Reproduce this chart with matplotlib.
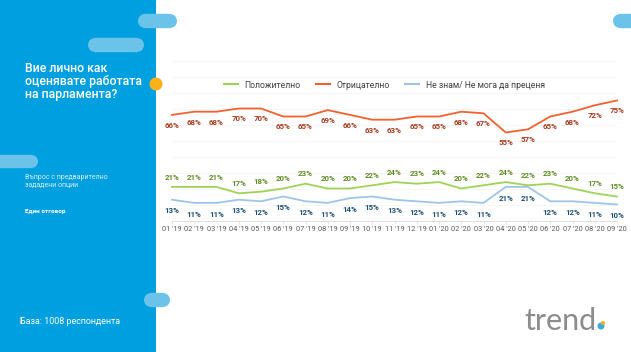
import matplotlib.pyplot as plt
from matplotlib.patches import Circle, Rectangle
from matplotlib.lines import Line2D

plt.rcParams['font.family'] = ['Roboto', 'DejaVu Sans']

months = ["01 '19", "02 '19", "03 '19", "04 '19", "05 '19", "06 '19", "07 '19",
          "08 '19", "09 '19", "10 '19", "11 '19", "12 '19", "01 '20", "02 '20",
          "03 '20", "04 '20", "05 '20", "06 '20", "07 '20", "08 '20", "09 '20"]
negative = [66, 68, 68, 70, 70, 65, 65, 69, 66, 63, 63, 65, 65, 68, 67, 55, 57, 65, 68, 72, 75]
positive = [21, 21, 21, 17, 18, 20, 23, 20, 20, 22, 24, 23, 24, 20, 22, 24, 22, 23, 20, 17, 15]
dont_know = [13, 11, 11, 13, 12, 15, 12, 11, 14, 15, 13, 12, 11, 12, 11, 21, 21, 12, 12, 11, 10]

W, H = 631, 352
fig = plt.figure(figsize=(W / 100, H / 100), dpi=100)
fig.patch.set_facecolor('white')

# background layer in pixel units
bg = fig.add_axes([0, 0, 1, 1])
bg.set_xlim(0, W)
bg.set_ylim(H, 0)
bg.axis('off')
bg.add_patch(Rectangle((0, 0), 156, H, facecolor='#009fe0', edgecolor='none'))


def pill(x0, y0, x1, y1, color='#6cc3ea'):
    h = y1 - y0
    r = h / 2
    bg.add_patch(Rectangle((x0 + r, y0), (x1 - x0) - h, h, facecolor=color,
                           edgecolor=color, lw=0.3))
    bg.add_patch(Circle((x0 + r, y0 + r), r, facecolor=color, edgecolor='none'))
    bg.add_patch(Circle((x1 - r, y0 + r), r, facecolor=color, edgecolor='none'))


pill(138, 14, 177, 28)
pill(88, 38, 144, 52)
pill(-20, 155, 38, 168)
pill(144, 293, 170, 307)
pill(613, 14, 660, 28)
bg.add_patch(Circle((156, 84), 6.5, facecolor='#fbb117', edgecolor='none'))

bg.text(25, 62, "Вие лично как\nоценявате работата\nна парламента?",
        color='white', fontsize=8.8, fontweight='medium', va='top', ha='left',
        linespacing=1.0)
bg.text(25, 174, "Въпрос с предварително\nзададени опции",
        color='#d8effa', fontsize=5.0, va='top', ha='left', linespacing=1.25)
bg.text(25, 209, "Един отговор", color='white', fontsize=4.6,
        fontweight='bold', va='top', ha='left')
bg.text(20, 322, "База: 1008 респондента", color='white',
        fontsize=6.4, va='center', ha='left')

# logo
bg.text(524, 321, "trend", color='#8c8c8c', fontsize=22,
        va='center', ha='left', family='Lato', fontweight='normal')
bg.add_patch(Circle((601, 326), 3.5, facecolor='#3fa9e0', edgecolor='none'))
bg.add_patch(Circle((603, 323), 2.0, facecolor='#fbb117', edgecolor='none'))

ax = fig.add_axes([172 / W, 1 - 220.5 / H, (617 - 172) / W, (220.5 - 60.5) / H])
ax.set_xlim(0, len(months) - 1)
ax.set_ylim(0, 100)
x = list(range(len(months)))

for gy in range(10, 101, 10):
    ax.axhline(gy, color='#f5f5f5', lw=0.6, zorder=0)

series = [
    (positive, '#9fd356', '#5f8c24', 'Положително', 7),
    (negative, '#f4612f', '#a83a1c', 'Отрицателно', -7.5),
    (dont_know, '#9ec5e8', '#1f4f70', 'Не знам/ Не мога да преценя', -8),
]
for vals, lc, tc, name, off in series:
    ax.plot(x, vals, color=lc, lw=1.3, label=name, clip_on=False, zorder=3)
    for xi, v in zip(x, vals):
        ax.annotate(f"{v}%", (xi, v), xytext=(0, off), textcoords='offset points',
                    ha='center', va='center', fontsize=5.7, fontweight='bold',
                    color=tc, zorder=4)

for s in ['top', 'right', 'left']:
    ax.spines[s].set_visible(False)
ax.spines['bottom'].set_color('#d9d9d9')
ax.spines['bottom'].set_linewidth(0.6)
ax.set_yticks([])
ax.set_xticks(x)
ax.set_xticklabels(months, fontsize=5.3, color='#595959')
ax.tick_params(axis='x', length=2, width=0.5, color='#d9d9d9', pad=2)
ax.patch.set_alpha(0)

handles = [Line2D([0], [0], color=c, lw=1.5) for _, c, _, _, _ in series]
labels = [n for _, _, _, n, _ in series]
fig.legend(handles, labels, loc='center left', bbox_to_anchor=(216 / W, 1 - 85 / H),
           ncol=3, frameon=False, fontsize=6.2, handlelength=1.6,
           columnspacing=1.8, handletextpad=0.8, labelcolor='#404040')

fig.savefig('out.png', dpi=100)
